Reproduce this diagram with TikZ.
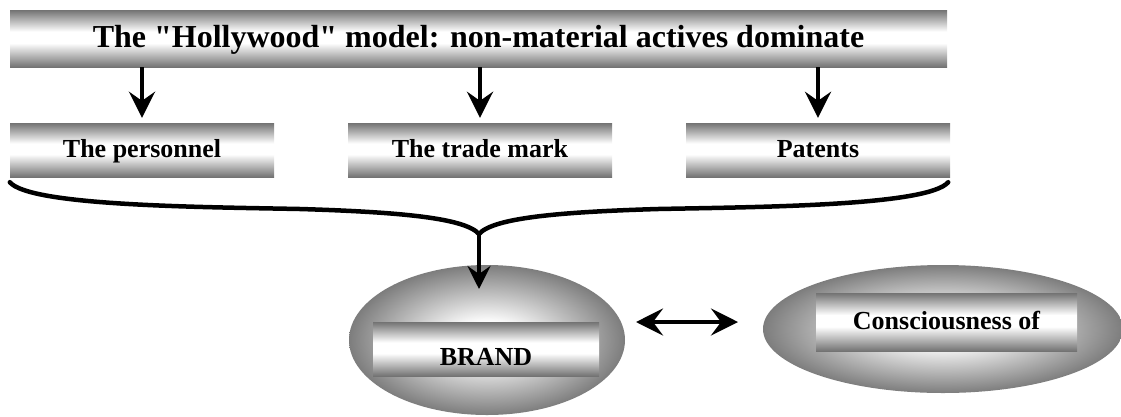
\documentclass[tikz,border=0pt]{standalone}
\usepackage{fontspec}
\setmainfont{Liberation Serif}
\usetikzlibrary{arrows.meta,calc,shapes.geometric}

\definecolor{barg}{gray}{0.45}
\definecolor{ellg}{gray}{0.49}

% metallic bar: grey edges, white band a little above the middle
% (the path's box covers 25bp--75bp of the shading)
\pgfdeclareverticalshading{barshade}{100bp}{color(0bp)=(barg); color(25bp)=(barg); color(46bp)=(white); color(56bp)=(white); color(75bp)=(barg); color(100bp)=(barg)}
% elliptic fill: white core fading to grey at the rim (rim at 25bp)
\pgfdeclareradialshading{ellshade}{\pgfpointorigin}{color(0bp)=(white); color(6bp)=(white); color(25bp)=(ellg); color(50bp)=(ellg)}

\tikzset{
  labelfont/.style={font=\bfseries\fontsize{26}{30}\selectfont, text height=18pt, text depth=4pt},
  bar/.style={rectangle, inner sep=0pt, shading=barshade, labelfont},
  titlebar/.style={bar, font=\bfseries\fontsize{32}{38}\selectfont, text height=22pt, text depth=5pt},
  oval/.style={ellipse, inner sep=0pt, shading=ellshade},
  flow/.style={line width=4pt, -{Stealth[length=26pt,width=26pt,inset=9pt]}},
  brace/.style={line width=4.5pt, line cap=round},
  twoway/.style={line width=4pt, {Stealth[length=27pt,width=27pt,inset=10pt]}-{Stealth[length=27pt,width=27pt,inset=10pt]}}
}

\begin{document}
\begin{tikzpicture}[x=1pt,y=-1pt]
\useasboundingbox (0,0) rectangle (1121,416);

% headline and the three assets
\node[titlebar, minimum width=937pt, minimum height=57pt] (top) at (478.5,38.5)
  {The \textquotedbl Hollywood\textquotedbl{} model: non-material actives dominate};
\node[bar, minimum width=264pt, minimum height=54pt] (p1) at (142,150) {The personnel};
\node[bar, minimum width=264pt, minimum height=54pt] (p2) at (480,150) {The trade mark};
\node[bar, minimum width=264pt, minimum height=54pt] (p3) at (818,150) {Patents};

\foreach \n in {p1,p2,p3}
  \draw[flow, shorten >=5pt] (top.south -| \n.north) -- (\n.north);

% brand and consciousness
\node[oval, minimum width=276pt, minimum height=150pt] (brand) at (487,340) {};
\node[bar, minimum width=226pt, minimum height=54pt] (brandbox) at (486,349) {};
\node[labelfont, inner sep=0pt] (brandtxt) at (486,358) {BRAND};

\node[oval, minimum width=360pt, minimum height=128pt] (cons) at (943,329) {};
\node[bar, minimum width=261pt, minimum height=58pt] (consbox) at (946.5,322) {Consciousness of};

% curly brace gathering the three assets
\coordinate (bl) at ($(p1.south west)+(0,5)$);
\coordinate (br) at ($(p3.south east)+(-2,5)$);
\coordinate (junc) at (479,234);
\coordinate (tip) at (479,289);
\draw[brace] (bl) .. controls (30,206) and (200,207) .. (300,209)
                  .. controls (400,212) and (465,218) .. (junc);
\draw[brace] (br) .. controls (928,206) and (758,207) .. (658,209)
                  .. controls (558,212) and (493,218) .. (junc);
\draw[flow, -{Stealth[length=23pt,width=23pt,inset=8pt]}] (junc) -- (tip);

% mutual link
\coordinate (la) at (636,322);
\coordinate (lb) at (738,322);
\draw[twoway] (la) -- (lb);
\end{tikzpicture}
\end{document}
